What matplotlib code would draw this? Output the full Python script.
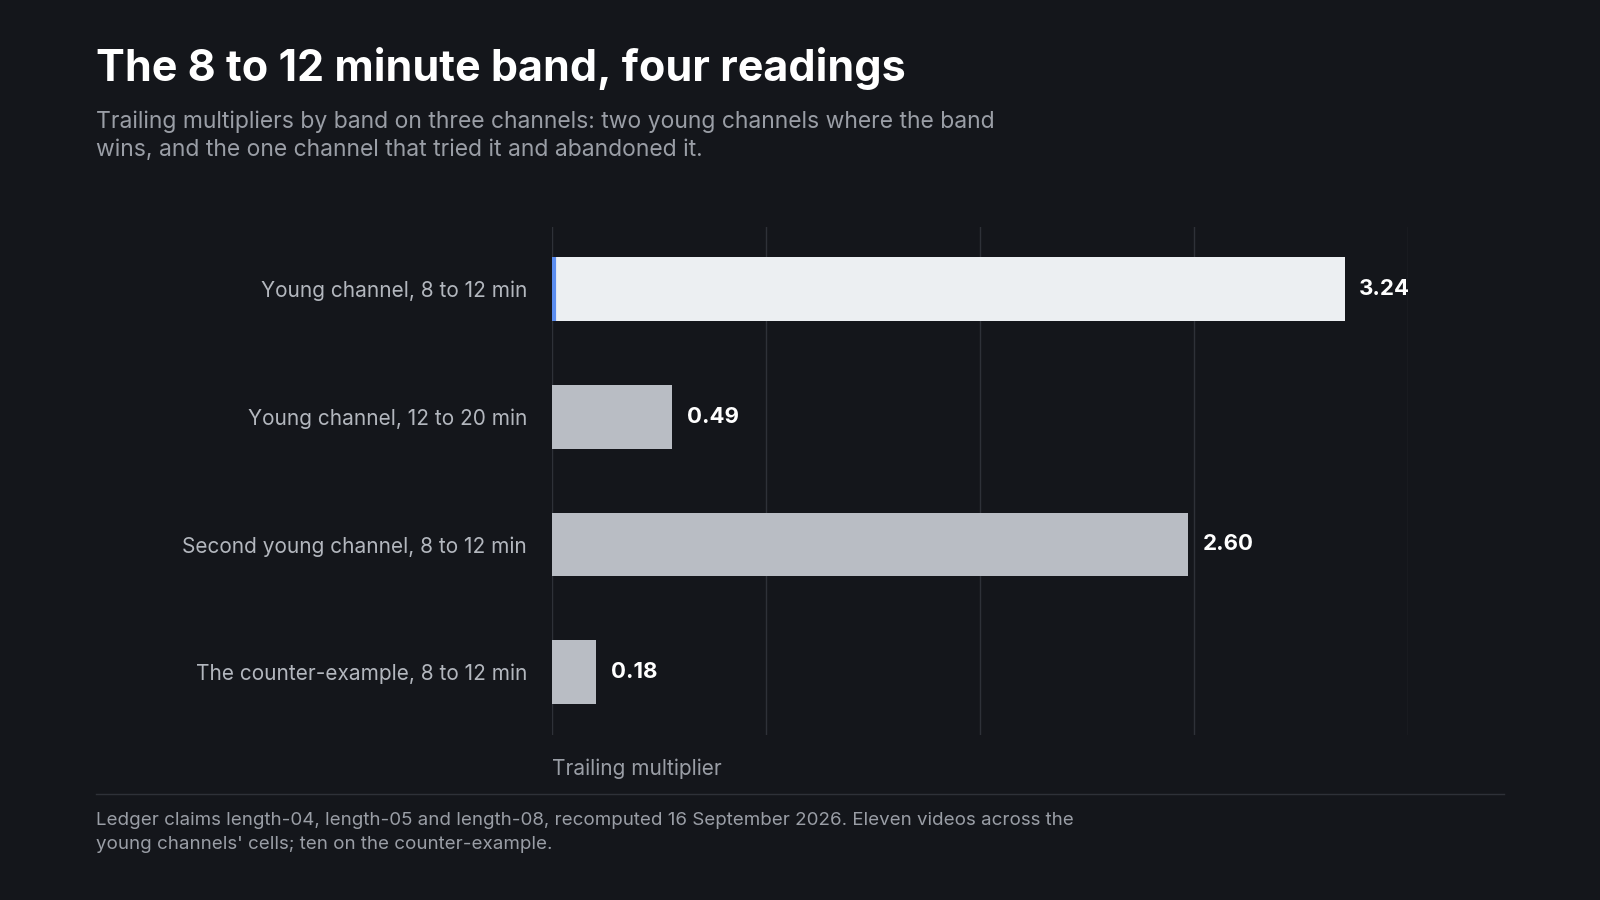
import matplotlib.pyplot as plt
from matplotlib.lines import Line2D

labels = ["Young channel, 8 to 12 min", "Young channel, 12 to 20 min",
          "Second young channel, 8 to 12 min", "The counter-example, 8 to 12 min"]
values = [3.24, 0.49, 2.60, 0.18]
value_text = ["3.24", "0.49", "2.60", "0.18"]

BG = "#14161b"
plt.rcParams['font.family'] = ['Inter', 'DejaVu Sans']

W, H = 1568, 882
fig = plt.figure(figsize=(16, 9), dpi=100, facecolor=BG)
ax = fig.add_axes([541 / W, 1 - 720 / H, (1380 - 541) / W, (720 - 222) / H])
ax.set_facecolor(BG)

colors = ["#eceff2"] + ["#b9bdc4"] * 3
ypos = list(range(len(values)))
ax.barh(ypos, values, height=0.5, color=colors, zorder=3)
ax.plot([0.006, 0.006], [-0.25, 0.25], color="#5b8def", lw=3, zorder=4, solid_capstyle="butt")
for y, v, t in zip(ypos, values, value_text):
    ax.text(v + 0.06, y, t, va="center", ha="left", color="white",
            fontsize=16, fontweight="bold")

ax.set_xlim(0, 3.5)
ax.set_ylim(3.49, -0.49)
ax.set_xticks([0, 0.875, 1.75, 2.625, 3.5])
ax.set_xticklabels([])
ax.grid(axis="x", color="#2e3138", lw=1, zorder=0)
ax.tick_params(length=0)
ax.set_yticks(ypos)
ax.set_yticklabels(labels, color="#b3b7be", fontsize=15)
ax.tick_params(axis="y", pad=18)
for s in ax.spines.values():
    s.set_visible(False)

fig.text(94 / W, 1 - 67 / H, "The 8 to 12 minute band, four readings", color="white",
         fontsize=31, fontweight="bold", va="center")
fig.text(94 / W, 1 - 133 / H,
         "Trailing multipliers by band on three channels: two young channels where the band\n"
         "wins, and the one channel that tried it and abandoned it.",
         color="#9a9ea6", fontsize=16.5, va="center", linespacing=1.4)
fig.text(541 / W, 1 - 753 / H, "Trailing multiplier", color="#9a9ea6", fontsize=15, va="center")
fig.add_artist(Line2D([94 / W, 1474 / W], [1 - 778 / H] * 2, color="#2e3138", lw=1))
fig.text(94 / W, 1 - 816 / H,
         "Ledger claims length-04, length-05 and length-08, recomputed 16 September 2026. Eleven videos across the\n"
         "young channels' cells; ten on the counter-example.",
         color="#9a9ea6", fontsize=13.5, va="center", linespacing=1.55)

fig.savefig("out.png", facecolor=BG)
